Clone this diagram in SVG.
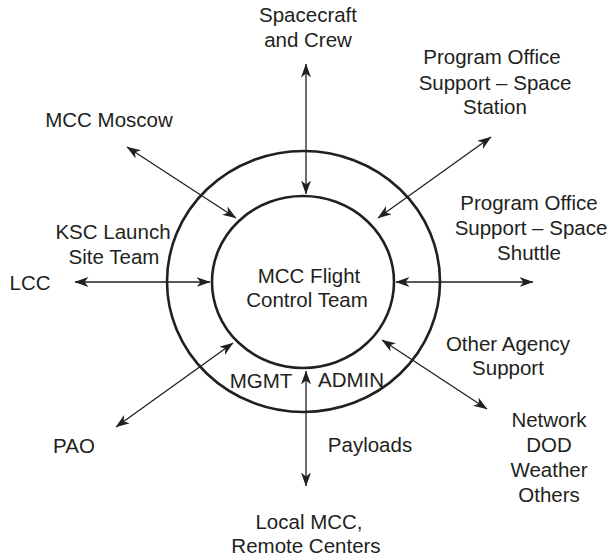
<svg xmlns="http://www.w3.org/2000/svg" width="607" height="560" viewBox="0 0 607 560">
<style>
text{font-family:"Liberation Sans",Arial,sans-serif;font-size:20.5px;fill:#231f20;text-anchor:middle}
.ring{fill:none;stroke:#231f20;stroke-width:2.6}
.c{fill:none;stroke:#231f20;stroke-width:1.3;marker-start:url(#ah);marker-end:url(#ah)}
</style>
<defs>
<marker id="ah" markerUnits="userSpaceOnUse" markerWidth="14" markerHeight="10" refX="13.5" refY="5" orient="auto-start-reverse">
<path d="M0,0 L14,5 L0,10 L4,5 z" fill="#231f20"/>
</marker>
</defs>
<rect width="607" height="560" fill="#fff"/>
<g id="outer-ring"><ellipse class="ring" cx="303.5" cy="281.5" rx="136.5" ry="130.5"/></g>
<g id="mcc-flight-control-team">
<ellipse class="ring" cx="303" cy="282" rx="91" ry="86"/>
<text x="309" y="283">MCC Flight</text>
<text x="307" y="307">Control Team</text>
</g>
<g id="connectors">
<line class="c" x1="306" y1="64" x2="306" y2="194"/>
<line class="c" x1="306" y1="486" x2="306" y2="371"/>
<line class="c" x1="75" y1="282" x2="210" y2="282"/>
<line class="c" x1="533" y1="282" x2="396" y2="282"/>
<line class="c" x1="127" y1="147" x2="236" y2="218"/>
<line class="c" x1="491" y1="137" x2="378" y2="218"/>
<line class="c" x1="487" y1="409" x2="382" y2="340"/>
<line class="c" x1="116" y1="427" x2="233" y2="343"/>
</g>
<g id="spacecraft"><text x="308" y="22">Spacecraft</text><text x="308" y="47">and Crew</text></g>
<g id="po-station"><text x="492" y="64">Program Office</text><text x="495" y="90">Support – Space</text><text x="495" y="114">Station</text></g>
<g id="mcc-moscow"><text x="109" y="127">MCC Moscow</text></g>
<g id="po-shuttle"><text x="529" y="210">Program Office</text><text x="531" y="235">Support – Space</text><text x="529" y="260">Shuttle</text></g>
<g id="ksc"><text x="113" y="239">KSC Launch</text><text x="114" y="264">Site Team</text></g>
<g id="lcc"><text x="30" y="290">LCC</text></g>
<g id="other-agency"><text x="508" y="351">Other Agency</text><text x="508" y="375">Support</text></g>
<g id="mgmt"><text x="261" y="388">MGMT</text></g>
<g id="admin"><text x="351" y="387">ADMIN</text></g>
<g id="network"><text x="549" y="427">Network</text><text x="549" y="452">DOD</text><text x="549" y="477">Weather</text><text x="549" y="502">Others</text></g>
<g id="pao"><text x="74" y="453">PAO</text></g>
<g id="payloads"><text x="370" y="452">Payloads</text></g>
<g id="local-mcc"><text x="309" y="529">Local MCC,</text><text x="306" y="553">Remote Centers</text></g>
</svg>
